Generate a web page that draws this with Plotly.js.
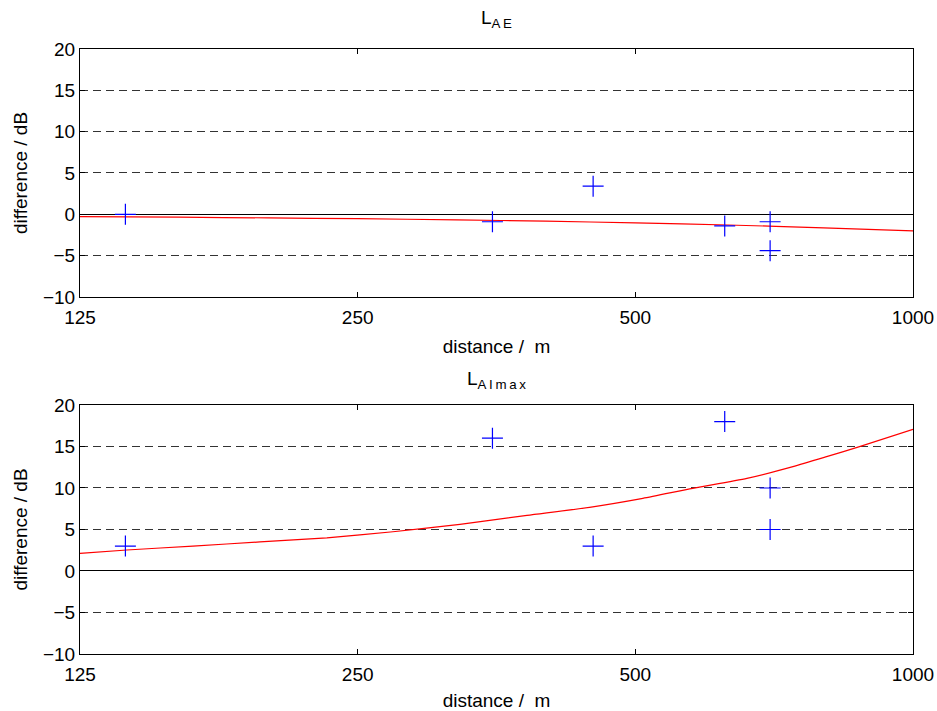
<!DOCTYPE html>
<html>
<head>
<meta charset="utf-8">
<script src="https://cdn.plot.ly/plotly-3.0.1.min.js"></script>
<style>
  html, body { margin: 0; padding: 0; background: #fff; }
  #chart { width: 937px; height: 711px; }
</style>
</head>
<body>
<div id="chart"></div>
<script>
// Measured differences per receiver distance
const pointDistance = [140, 350, 450, 625, 700, 700];
const diffLAE       = [0, -0.9, 3.4, -1.4, -0.9, -4.4];
const diffLAImax    = [3, 16, 3, 18, 10, 5];

// Fitted trend for L_AE
const trendDistAE = [125, 160, 200, 250, 320, 400, 500, 630, 800, 1000];
const trendAE     = [-0.28, -0.35, -0.43, -0.53, -0.67, -0.83, -1.03, -1.29, -1.63, -2.0];

// Fitted trend for L_AImax
const trendDistAImax = [125, 140.5, 165.7, 195.9, 231.5, 273, 322.7, 381.5, 446, 509.5, 577, 660.6, 741, 806, 875, 1000];
const trendAImax     = [2.13, 2.53, 3.0, 3.5, 4.0, 4.73, 5.62, 6.7, 7.67, 8.75, 9.96, 11.16, 12.57, 13.77, 14.98, 17.07];

// Axis ticks
const xTickVals = [125, 250, 500, 1000];
const xTickText = ['125', '250', '500', '1000'];
const yTickVals = [-10, -5, 0, 5, 10, 15, 20];

const FONT = 'Liberation Sans, Arial, Helvetica, sans-serif';

const markerStyle = {
  symbol: 'cross-thin',
  size: 15,
  color: '#0000ff',
  line: { color: '#0000ff', width: 1.2 }
};
const trendStyle = { color: '#ff0000', width: 1.2, shape: 'spline', smoothing: 0.6 };

const traces = [
  { x: trendDistAE, y: trendAE, mode: 'lines', line: trendStyle, xaxis: 'x', yaxis: 'y', hoverinfo: 'skip' },
  { x: pointDistance, y: diffLAE, mode: 'markers', marker: markerStyle, xaxis: 'x', yaxis: 'y' },
  { x: trendDistAImax, y: trendAImax, mode: 'lines', line: trendStyle, xaxis: 'x2', yaxis: 'y2', hoverinfo: 'skip' },
  { x: pointDistance, y: diffLAImax, mode: 'markers', marker: markerStyle, xaxis: 'x2', yaxis: 'y2' }
];

function xAxis(anchor) {
  return {
    type: 'log',
    range: [Math.log10(125), Math.log10(1000)],
    tickvals: xTickVals,
    ticktext: xTickText,
    ticks: 'inside',
    ticklen: 5,
    tickcolor: '#000',
    ticklabelstandoff: 3,
    showline: true,
    linecolor: '#000',
    linewidth: 1,
    mirror: 'ticks',
    showgrid: false,
    zeroline: false,
    anchor: anchor,
    tickfont: { family: FONT, size: 19, color: '#000' },
    title: { text: 'distance /  m', font: { family: FONT, size: 19, color: '#000' }, standoff: 12 }
  };
}

function yAxis(anchor, domain) {
  return {
    domain: domain,
    range: [-10, 20],
    tickvals: yTickVals,
    ticks: 'inside',
    ticklen: 5,
    tickcolor: '#000',
    showline: true,
    linecolor: '#000',
    linewidth: 1,
    mirror: 'ticks',
    showgrid: true,
    gridcolor: '#333',
    gridwidth: 1,
    griddash: '8px,5px',
    zeroline: true,
    zerolinecolor: '#000',
    zerolinewidth: 1,
    anchor: anchor,
    tickfont: { family: FONT, size: 19, color: '#000' },
    title: { text: 'difference / dB', font: { family: FONT, size: 19, color: '#000' }, standoff: 10 }
  };
}

const layout = {
  width: 937,
  height: 711,
  margin: { l: 80, r: 24, t: 49, b: 57 },
  paper_bgcolor: '#fff',
  plot_bgcolor: '#fff',
  showlegend: false,
  font: { family: FONT, size: 19, color: '#000' },
  xaxis: xAxis('y'),
  yaxis: yAxis('x', [0.5901, 1]),
  xaxis2: xAxis('y2'),
  yaxis2: yAxis('x2', [0, 0.4116]),
  annotations: [
    {
      text: 'L<sub>A\u2009E</sub>', xref: 'paper', yref: 'paper', x: 0.5, y: 1,
      xanchor: 'center', yanchor: 'bottom', yshift: 16, showarrow: false,
      font: { family: FONT, size: 19, color: '#000' }
    },
    {
      text: 'L<sub>A\u2009I\u2009m\u2009a\u2009x</sub>', xref: 'paper', yref: 'paper', x: 0.5, y: 0.4116,
      xanchor: 'center', yanchor: 'bottom', yshift: 11, showarrow: false,
      font: { family: FONT, size: 19, color: '#000' }
    }
  ]
};

Plotly.newPlot('chart', traces, layout, { displayModeBar: false, staticPlot: true });
</script>
</body>
</html>
